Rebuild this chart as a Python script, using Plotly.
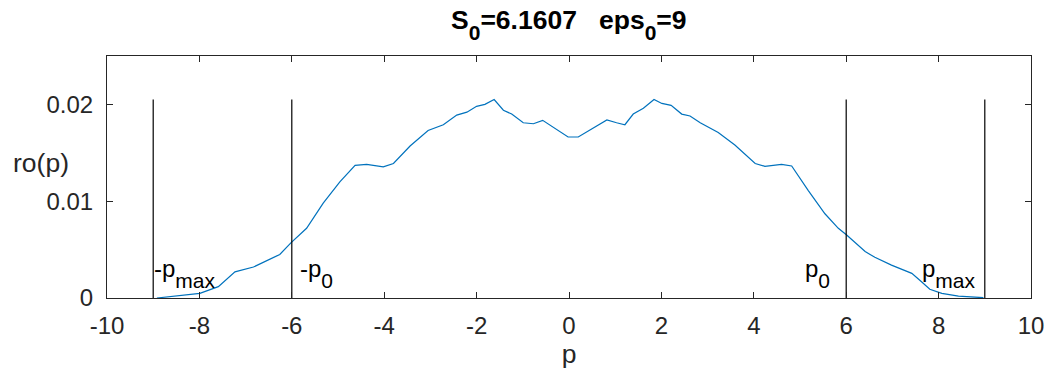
import plotly.graph_objects as go

# Density curve ro(p)
p_vals = [-8.92, -7.99, -7.59, -7.23, -6.83, -6.54, -6.26, -6.02, -5.68, -5.32,
          -4.96, -4.63, -4.38, -4.02, -3.80, -3.44, -3.05, -2.72, -2.43, -2.21,
          -2.00, -1.82, -1.62, -1.42, -1.24, -0.99, -0.77, -0.57, -0.34, -0.02,
          0.20, 0.49, 0.82, 1.03, 1.21, 1.39, 1.61, 1.84, 2.01, 2.21,
          2.44, 2.62, 2.84, 3.23, 3.59, 4.03, 4.24, 4.60, 4.82, 5.18,
          5.54, 5.83, 6.01, 6.41, 6.62, 6.98, 7.42, 7.63, 7.81, 8.07,
          8.43, 8.97]
ro_vals = [0.0, 0.00048, 0.00117, 0.0027, 0.0032, 0.0039, 0.0045, 0.0057, 0.0072, 0.0098,
           0.0120, 0.0137, 0.0138, 0.01354, 0.0139, 0.0157, 0.0173, 0.0179, 0.0189, 0.0192,
           0.0198, 0.0200, 0.0205, 0.0194, 0.0190, 0.0181, 0.0180, 0.01835, 0.01766, 0.01663,
           0.01663, 0.0175, 0.0184, 0.0181, 0.0179, 0.0190, 0.0196, 0.0205, 0.0201, 0.0199,
           0.0190, 0.0188, 0.0181, 0.0171, 0.0158, 0.0139, 0.0136, 0.0138, 0.01364, 0.0111,
           0.0087, 0.0072, 0.0065, 0.0048, 0.0042, 0.0034, 0.00255, 0.00168, 0.0009, 0.00048,
           0.0002, 0.00003]

# Marker lines
marker_x = [-9, -6, 6, 9]
marker_top = 0.0205
marker_main = ["-p", "-p", "p", "p"]
marker_sub = ["max", "0", "0", "max"]

x_ticks = [-10, -8, -6, -4, -2, 0, 2, 4, 6, 8, 10]
x_tick_text = ["-10", "-8", "-6", "-4", "-2", "0", "2", "4", "6", "8", "10"]
y_ticks = [0, 0.01, 0.02]
y_tick_text = ["0", "0.01", "0.02"]

title_parts = [("S", "0", "=6.1607"), ("eps", "0", "=9")]

# label styling (pixel offsets, anchors)
marker_anchor = ["left", "left", "right", "right"]
marker_xshift = [-1, 6, -14, -7]
label_y = 0.0025

axis_color = "#262626"
font_family = "Liberation Sans, Arial, sans-serif"
fs = 24
fs_lab = 26.5
sub_fs = 21


def sub(t, size, shift):
    return (f"<sub><span style='font-size:{size}px;baseline-shift:-{shift}px'>"
            f"{t}</span></sub>")


fig = go.Figure()

fig.add_trace(go.Scatter(x=p_vals, y=ro_vals, mode="lines",
                         line=dict(color="#0072BD", width=1.2),
                         showlegend=False, hoverinfo="skip"))

for xv in marker_x:
    fig.add_trace(go.Scatter(x=[xv, xv], y=[0, marker_top], mode="lines",
                             line=dict(color="black", width=1.2),
                             showlegend=False, hoverinfo="skip"))

for xv, m, s, anc, xs in zip(marker_x, marker_main, marker_sub, marker_anchor, marker_xshift):
    fig.add_annotation(x=xv, y=label_y, text=m + sub(s, sub_fs, 6), showarrow=False,
                       xanchor=anc, yanchor="middle", xshift=xs,
                       font=dict(family=font_family, size=fs, color="black"))

title_text = "<b>" + "&nbsp;&nbsp;&nbsp;".join(a + sub(b, 21, 5) + c for a, b, c in title_parts) + "</b>"
fig.add_annotation(x=0.5, y=1.0, xref="paper", yref="paper", text=title_text,
                   showarrow=False, xanchor="center", yanchor="bottom", yshift=10,
                   font=dict(family=font_family, size=fs_lab, color="black"))

fig.add_annotation(x=-0.0715, y=0.0139, xref="paper", yref="y", text="ro(p)",
                   showarrow=False, xanchor="center", yanchor="middle",
                   font=dict(family=font_family, size=fs_lab, color=axis_color))

fig.update_layout(
    width=1051, height=376,
    margin=dict(l=107, r=20, t=56, b=78, autoexpand=False),
    paper_bgcolor="white", plot_bgcolor="white",
    font=dict(family=font_family, size=fs, color=axis_color),
    xaxis=dict(range=[-10, 10], tickvals=x_ticks, ticktext=x_tick_text,
               ticks="inside", ticklen=6, automargin=False,
               tickcolor=axis_color, showline=True, linecolor=axis_color, linewidth=1,
               mirror="ticks", showgrid=False, zeroline=False,
               title=dict(text="p", font=dict(size=fs_lab, color=axis_color), standoff=6),
               ticklabelstandoff=6),
    yaxis=dict(range=[0, 0.025], tickvals=y_ticks, ticktext=y_tick_text, ticks="inside",
               ticklen=6, tickcolor=axis_color, showline=True, linecolor=axis_color,
               linewidth=1, mirror="ticks", showgrid=False, zeroline=False,
               automargin=False, ticklabelstandoff=8),
)

fig.write_html("out.html")
